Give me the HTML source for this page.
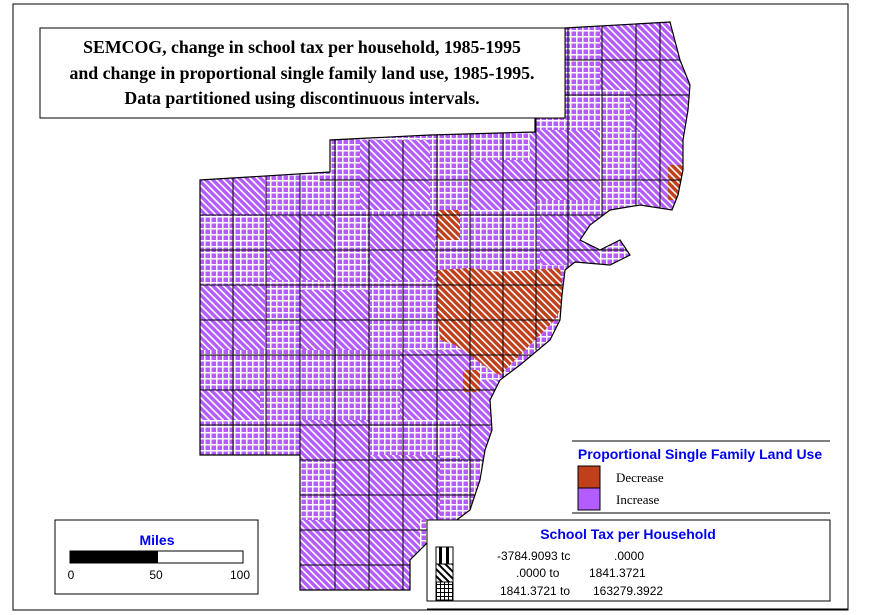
<!DOCTYPE html>
<html><head><meta charset="utf-8"><style>
body{margin:0;background:#fff}
svg{display:block}
</style></head><body>
<svg width="886" height="615" viewBox="0 0 886 615" xmlns="http://www.w3.org/2000/svg">
<defs>
<pattern id="grid" width="6" height="6" patternUnits="userSpaceOnUse">
<rect width="6" height="6" fill="#b35cff"/>
<rect x="0" y="0" width="6" height="1.5" fill="#fff"/>
<rect x="0" y="0" width="1.5" height="6" fill="#fff"/>
</pattern>
<pattern id="diag" width="5" height="5" patternUnits="userSpaceOnUse" patternTransform="rotate(-45)">
<rect width="5" height="5" fill="#b35cff"/>
<rect x="0" y="0" width="1.6" height="5" fill="#fff"/>
</pattern>
<pattern id="odiag" width="5" height="5" patternUnits="userSpaceOnUse" patternTransform="rotate(-45)">
<rect width="5" height="5" fill="#c0401c"/>
<rect x="0" y="0" width="1.6" height="5" fill="#fff"/>
</pattern>
<pattern id="bdiag" width="5" height="5" patternUnits="userSpaceOnUse" patternTransform="rotate(-45)">
<rect width="5" height="5" fill="#fff"/>
<rect x="0" y="0" width="2" height="5" fill="#000"/>
</pattern>
<pattern id="bgrid" width="4" height="4" patternUnits="userSpaceOnUse">
<rect width="4" height="4" fill="#fff"/>
<rect width="4" height="1" fill="#000"/><rect width="1" height="4" fill="#000"/>
</pattern>
<clipPath id="map"><path id="mp" d="M565,28 L670,22 L680,60 L690,85 L688,110 L683,140 L683,170 L678,195 L672,210 L640,205 L610,210 L590,225 L580,240 L600,250 L620,240 L630,255 L610,265 L575,262 L565,270 L562,295 L560,320 L550,340 L520,365 L500,380 L490,400 L492,430 L485,450 L480,480 L470,510 L430,540 L410,560 L410,590 L300,590 L300,455 L200,455 L200,180 L330,172 L330,140 L430,135 L535,132 L535,118 L565,118 Z"/></clipPath>
</defs>
<rect x="13" y="4" width="835" height="606" fill="#fff" stroke="#000" stroke-width="1"/>
<g clip-path="url(#map)">
<rect x="190" y="15" width="510" height="590" fill="url(#grid)"/>
<path fill="url(#diag)" d="M600,20 L700,20 L700,130 L630,130 L630,90 L600,90 Z M530,130 L600,130 L600,200 L530,200 Z M640,130 L700,130 L700,215 L640,215 Z M200,175 L265,175 L265,215 L200,215 Z M360,140 L430,140 L430,210 L360,210 Z M470,160 L535,160 L535,210 L470,210 Z M200,285 L265,285 L265,350 L200,350 Z M270,215 L335,215 L335,280 L270,280 Z M300,290 L370,290 L370,350 L300,350 Z M370,215 L435,215 L435,280 L370,280 Z M200,390 L260,390 L260,420 L200,420 Z M300,420 L370,420 L370,460 L300,460 Z M400,350 L470,350 L470,420 L400,420 Z M335,455 L440,455 L440,520 L335,520 Z M300,520 L420,520 L420,600 L300,600 Z M460,380 L500,380 L500,460 L460,460 Z M540,215 L600,215 L600,265 L540,265 Z"/>
<path fill="url(#odiag)" d="M437,270 L470,268 L500,272 L560,268 L565,300 L555,320 L540,335 L515,360 L500,375 L490,370 L470,355 L455,345 L440,340 L437,310 Z M437,210 L460,210 L460,240 L437,240 Z M463,370 L480,370 L480,392 L463,392 Z M668,165 L684,165 L684,200 L668,200 Z"/>
<g stroke="#000" stroke-width="1" fill="none">
<path d="M233,170V460 M266,170V460 M300,140V600 M335,140V600 M369,140V600 M403,140V600 M437,130V600 M470,130V600 M503,130V400 M536,20V350 M568,20V270 M602,20V220 M636,20V210 M660,20V220"/>
<path d="M190,215H700 M190,250H700 M190,285H600 M190,320H580 M190,355H560 M190,390H520 M190,425H500 M300,460H500 M300,495H500 M300,530H480 M300,565H440 M520,60H700 M520,95H700 M320,180H700"/>
</g>
</g>
<use href="#mp" fill="none" stroke="#000" stroke-width="1.2"/>
<rect x="40" y="28" width="525" height="90" fill="#fff" stroke="#000"/>
<g font-family="Liberation Serif,serif" font-weight="bold" font-size="17.8" text-anchor="middle" fill="#000">
<text x="302" y="53">SEMCOG, change in school tax per household, 1985-1995</text>
<text x="302" y="79">and change in proportional single family land use, 1985-1995.</text>
<text x="302" y="104">Data partitioned using discontinuous intervals.</text>
</g>
<line x1="572" y1="441" x2="830" y2="441" stroke="#000"/>
<text x="700" y="459" font-family="Liberation Sans,sans-serif" font-weight="bold" font-size="14" fill="#0000ee" text-anchor="middle">Proportional Single Family Land Use</text>
<rect x="578" y="466" width="22" height="22" fill="#c0401c" stroke="#000"/>
<rect x="578" y="488" width="22" height="22" fill="#b35cff" stroke="#000"/>
<g font-family="Liberation Serif,serif" font-size="13" fill="#000">
<text x="616" y="482">Decrease</text><text x="616" y="504">Increase</text>
</g>
<line x1="572" y1="513" x2="830" y2="513" stroke="#000"/>
<rect x="427" y="520" width="403" height="81" fill="#fff" stroke="#000"/>
<text x="628" y="539" font-family="Liberation Sans,sans-serif" font-weight="bold" font-size="14" fill="#0000ee" text-anchor="middle">School Tax per Household</text>
<rect x="436" y="547" width="17" height="17" fill="#fff" stroke="#000"/>
<rect x="439" y="547" width="3" height="17" fill="#000"/><rect x="446" y="547" width="3" height="17" fill="#000"/>
<rect x="436" y="564" width="17" height="18" fill="url(#bdiag)" stroke="#000"/>
<rect x="436" y="582" width="17" height="18" fill="url(#bgrid)" stroke="#000"/>
<g font-family="Liberation Sans,sans-serif" font-size="12" fill="#000">
<text x="497" y="560">-3784.9093 tc</text><text x="614" y="560">.0000</text>
<text x="516" y="577">.0000 to</text><text x="589" y="577">1841.3721</text>
<text x="500" y="595">1841.3721 to</text><text x="593" y="595">163279.3922</text>
</g>
<line x1="427" y1="609" x2="848" y2="609" stroke="#000"/>
<rect x="55" y="520" width="203" height="74" fill="#fff" stroke="#000"/>
<text x="157" y="545" font-family="Liberation Sans,sans-serif" font-weight="bold" font-size="14" fill="#0000ee" text-anchor="middle">Miles</text>
<rect x="70" y="551" width="173" height="12" fill="#fff" stroke="#000"/>
<rect x="70" y="551" width="88" height="12" fill="#000"/>
<g font-family="Liberation Sans,sans-serif" font-size="12" fill="#000" text-anchor="middle">
<text x="71" y="579">0</text><text x="156" y="579">50</text><text x="240" y="579">100</text>
</g>
</svg>
</body></html>
